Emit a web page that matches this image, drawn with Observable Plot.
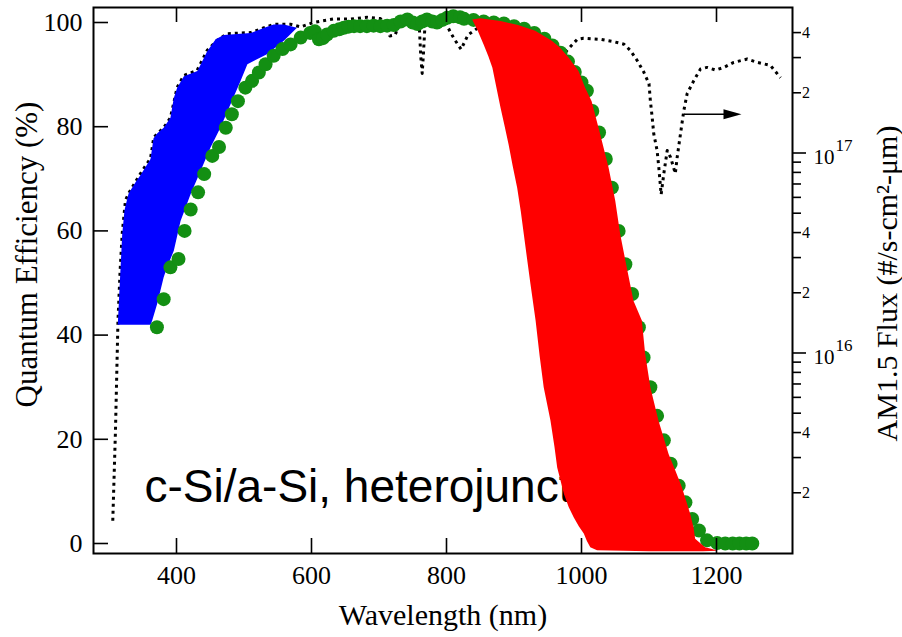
<!DOCTYPE html>
<html><head><meta charset="utf-8">
<script src="https://cdn.jsdelivr.net/npm/d3@7"></script>
<script src="https://cdn.jsdelivr.net/npm/@observablehq/plot@0.6"></script>
<style>
html,body{margin:0;padding:0;background:#fff;}
#chart{position:relative;width:902px;height:637px;}
#chart svg{position:absolute;left:0;top:0;background:transparent;}
</style></head><body><div id="chart"></div>
<script>
// ---- data ----
const qeWavelength = [371,381,391,403,412,421,432,441,453,463,473,482,491,502,512,522,532,544,557,569,584,598,605,611,617,623,633,641,648,655,663,672,682,692,702,712,722,732,742,750,757,764,771,779,786,794,801,810,820,826,840,855,870,885,900,915,930,945,957,969,980,990,1000,1008,1016,1026,1036,1045,1055,1065,1075,1085,1092,1102,1112,1122,1132,1144,1154,1164,1174,1186,1201,1213,1224,1234,1244,1253];
const qeValue = [41.5,46.9,53.0,54.6,60.0,64.1,67.4,70.9,74.4,76.1,79.8,82.4,84.9,87.5,88.8,90.4,92.0,93.6,94.9,95.8,97.1,98.0,98.3,96.8,97.0,97.7,98.4,98.7,99.0,99.2,99.3,99.3,99.3,99.4,99.3,99.4,99.5,100.2,100.6,100.0,99.7,100.2,100.6,100.2,100.0,100.5,100.9,101.2,101.0,100.7,100.5,100.2,100.0,99.8,99.3,98.8,98.0,96.9,95.6,94.2,92.5,90.5,88.5,86.9,83.0,78.9,73.8,68.3,60.0,53.6,47.9,41.5,35.7,30.0,24.5,19.8,15.3,11.1,7.9,4.7,2.5,0.6,0.1,0,0,0,0,0];

const fluxWavelength = [305.6,309.6,313.3,316.5,319.6,324.4,329.3,346.7,361.5,366.4,381.2,391,401,410.8,430.6,445.5,460.3,475,509.6,544,569,583.7,603.4,633,658,682.5,702,712,716,724,732,756.6,760,762,764,766,768,776,795,806,813,821.7,827,832,850,880,900,920,935,950,965,974,993.6,1003,1028,1048,1063,1072.6,1082.5,1092,1100,1102,1104.7,1107,1112,1114.5,1118,1122,1127,1132,1139,1141.7,1146.7,1151.6,1156.5,1166.4,1176.3,1186,1198.5,1211,1225.6,1245.5,1260,1280,1294.8];
const fluxValue = [1.45e15,4.1e15,1.45e16,2.6e16,3.97e16,5.8e16,6.3e16,7.9e16,9.4e16,1.2e17,1.34e17,1.5e17,2.13e17,2.44e17,2.59e17,3.26e17,3.66e17,3.95e17,4.0e17,4.4e17,4.4e17,4.27e17,4.5e17,4.68e17,4.68e17,4.77e17,4.7e17,4.3e17,3.85e17,3.9e17,4.6e17,4.68e17,4.1e17,3.0e17,2.5e17,3.2e17,4.3e17,4.7e17,4.77e17,4.0e17,3.65e17,3.3e17,3.6e17,3.9e17,4.3e17,4.3e17,4.0e17,3.0e17,1.5e17,1.8e17,2.8e17,3.14e17,3.7e17,3.75e17,3.7e17,3.6e17,3.5e17,3.25e17,2.9e17,2.55e17,2.22e17,1.83e17,1.51e17,1.25e17,1.03e17,8.5e16,6.2e16,7.9e16,1.03e17,9.5e16,7.9e16,9.5e16,1.25e17,1.63e17,1.98e17,2.3e17,2.63e17,2.68e17,2.6e17,2.68e17,2.84e17,2.95e17,2.84e17,2.74e17,2.38e17];

// blue loss region (short wavelength), polygon vertices
const blueWavelength = [313,316,319.6,323,329,340,347,361.5,366,372,381,391,396,401,411,431,445.5,458,470,490,510,530,544,559,578.5,559,534,505,495,480,465,450.4,435.6,420.7,406,396,386,381,371.4,364,361.5];
const blueQE = [42.0,50,59.4,64,67.2,69.5,70.8,73.8,77.8,78.8,79.8,81.7,85.5,87.5,89.7,90.7,94.5,96.8,97.6,97.8,98.0,99.0,99.6,99.6,99.0,96.5,93.9,92.0,88.8,84.3,79.8,76.0,71.5,67.0,61.9,56.2,53.0,51.1,46.0,42.8,42.0];

// red loss region (long wavelength), polygon vertices
const redWavelength = [838,846,855,862,868,874,880,886,892,898,904.7,910,914.5,919.5,924.4,932,938,944,954,960,964,974,981,988.6,996,1003.4,1008,1013,1023,1100,1180,1202,1192,1183,1168.4,1166,1161,1148.7,1139,1129,1114,1102,1094.3,1089.4,1077,1067,1057.3,1050,1040,1027.6,1015,1005.4,995.6,980.8,968,956,931.4,906,880,850];
const redQE = [100.6,98.5,95.8,93.5,91.3,87.5,83.7,80.2,76.6,72.5,68.3,63.8,59.4,54.5,49.8,42.8,36,30.0,23.6,18.5,14.6,9.5,7.0,5.0,3.3,1.9,0.5,-0.7,-1.3,-1.5,-1.5,-1.4,-1.0,-0.7,0.9,3,5.7,10.8,14,17.2,23.6,30.0,36.4,42.8,46.6,53.0,59.4,65.8,72.2,78.6,84.9,87.5,90.7,93.3,95.2,96.5,98.4,99.5,100.3,100.8];

const wlTicks = [400,600,800,1000,1200];
const qeTicks = [0,20,40,60,80,100];
const fluxMajorTicks = [1e16,1e17];
const fluxLabeledMinorTicks = [2e15,4e15,6e15,8e15,2e16,4e16,6e16,8e16,2e17,4e17];
const fluxUnlabeledMinorTicks = [3e15,5e15,7e15,9e15,3e16,5e16,7e16,9e16,3e17];

const annotationText = "c-Si/a-Si, heterojunction";
const annotationWavelength = 352.6, annotationQE = 7.9;
const arrowWavelength = [1151.6, 1237];
const arrowQE = 82.4;

const xTitle = "Wavelength (nm)";
const yTitle = "Quantum Efficiency (%)";
const y2Title = "AM1.5 Flux (#/s-cm²-μm)";

// ---- layout ----
const serif = "'Liberation Serif','Times New Roman',Times,serif";
const W = 902, H = 637, ML = 93, MR = 110, MT = 7, MB = 84;
const FW = W - ML - MR, FH = H - MT - MB;
const common = {
  width: W, height: H,
  marginLeft: ML, marginRight: MR, marginTop: MT, marginBottom: MB,
  style: {fontFamily: serif, background: "transparent", color: "black", overflow: "visible"}
};
const xDomain = [277.04, 1312.6];
const green = "#138f13";
const tickColor = "black";
const tickWidth = 1.6;
const idx = a => d3.range(a.length);

// bottom layer: AM1.5 flux on the log axis (right)
const fluxPlot = Plot.plot({
  ...common,
  x: {type: "linear", domain: xDomain, axis: null},
  y: {type: "log", domain: [9.94e14, 5.34e17], axis: null},
  marks: [
    Plot.line(idx(fluxWavelength), {x: i => fluxWavelength[i], y: i => fluxValue[i], stroke: "black", strokeWidth: 3, strokeDasharray: "3,4", strokeLinecap: "butt"}),
    Plot.axisY({anchor: "right", ticks: [...fluxLabeledMinorTicks, ...fluxUnlabeledMinorTicks], tickSize: 8, stroke: tickColor, strokeWidth: tickWidth, label: null, tickFormat: () => ""}),
    Plot.axisY({anchor: "right", ticks: fluxMajorTicks, tickSize: 13, stroke: tickColor, strokeWidth: tickWidth, label: null, tickFormat: () => ""}),
    Plot.axisY({anchor: "right", ticks: fluxLabeledMinorTicks, tickSize: 0, tickPadding: 9.5, fontSize: 16, label: null,
      tickFormat: d => String(Math.round(d / Math.pow(10, Math.floor(Math.log10(d) + 1e-9))))}),
    Plot.axisY({anchor: "right", ticks: fluxMajorTicks, tickSize: 0, tickPadding: 21, fontSize: 21, dy: 4, label: null, tickFormat: () => "10"}),
    Plot.text(fluxMajorTicks, {y: d => d, text: d => String(Math.round(Math.log10(d))), frameAnchor: "right", dx: 43, dy: -2, lineAnchor: "bottom", textAnchor: "start", fontSize: 17}),
    Plot.text([y2Title], {frameAnchor: "right", dx: 95, dy: 3, rotate: -90, textAnchor: "middle", lineAnchor: "middle", fontSize: 30})
  ]
});

// top layer: quantum efficiency (left axis)
const headSymbol = {draw(ctx) { ctx.moveTo(0, 0); ctx.lineTo(-18, -5); ctx.lineTo(-18, 5); ctx.closePath(); }};
const qePlot = Plot.plot({
  ...common,
  x: {type: "linear", domain: xDomain},
  y: {type: "linear", domain: [-1.92, 102.88]},
  marks: [
    Plot.text([annotationText], {x: annotationWavelength, y: annotationQE, textAnchor: "start", lineAnchor: "bottom", fontSize: 46, fontFamily: "'Liberation Sans',Arial,sans-serif", fill: "black"}),
    Plot.line(idx(blueWavelength), {x: i => blueWavelength[i], y: i => blueQE[i], fill: "#0000ff", stroke: "none"}),
    Plot.dot(idx(qeWavelength), {x: i => qeWavelength[i], y: i => qeValue[i], r: 7, fill: green, stroke: "none"}),
    Plot.line(idx(redWavelength), {x: i => redWavelength[i], y: i => redQE[i], fill: "#ff0000", stroke: "none"}),
    Plot.link([0], {x1: arrowWavelength[0], x2: arrowWavelength[1] - 20, y1: arrowQE, y2: arrowQE, stroke: "black", strokeWidth: 1.5}),
    Plot.dot([0], {x: arrowWavelength[1], y: arrowQE, symbol: headSymbol, r: 5, fill: "black", stroke: "none"}),
    // inward ticks
    Plot.tickY(qeTicks, {y: d => d, insetRight: FW - 15, stroke: tickColor, strokeWidth: tickWidth}),
    Plot.tickX(wlTicks, {x: d => d, insetTop: FH - 15, stroke: tickColor, strokeWidth: tickWidth}),
    Plot.tickX(wlTicks, {x: d => d, insetBottom: FH - 15, stroke: tickColor, strokeWidth: tickWidth}),
    Plot.axisY({anchor: "left", ticks: qeTicks, tickSize: 0, tickPadding: 11, fontSize: 26, label: null}),
    Plot.axisX({anchor: "bottom", ticks: wlTicks, tickSize: 0, tickPadding: 12, fontSize: 26, label: null, tickFormat: d => String(d)}),
    Plot.frame({stroke: "black", strokeWidth: 2}),
    Plot.text([xTitle], {frameAnchor: "bottom", dy: 71, textAnchor: "middle", lineAnchor: "bottom", fontSize: 30}),
    Plot.text([yTitle], {frameAnchor: "left", dx: -66, dy: -26, rotate: -90, textAnchor: "middle", lineAnchor: "middle", fontSize: 31})
  ]
});

const chart = document.getElementById("chart");
chart.appendChild(fluxPlot);
chart.appendChild(qePlot);
</script>
</body></html>
